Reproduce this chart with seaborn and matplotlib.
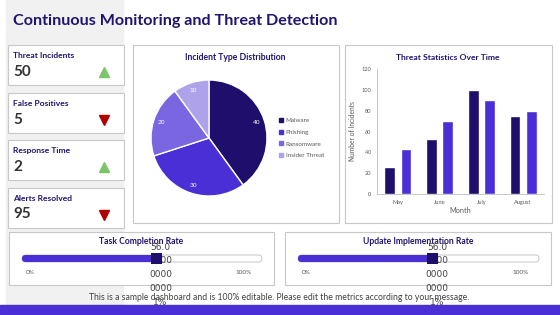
import numpy as np
import pandas as pd
import seaborn as sns
import matplotlib.pyplot as plt
from matplotlib.patches import Rectangle, FancyBboxPatch
from matplotlib.lines import Line2D

# KPI cards
kpi_labels = ['Threat Incidents', 'False Positives', 'Response Time', 'Alerts Resolved']
kpi_values = [50, 5, 2, 95]
kpi_trend = ['up', 'down', 'up', 'down']

# pie data
incident_types = ['Malware', 'Phishing', 'Ransomware', 'Insider Threat']
incident_counts = [40, 30, 20, 10]

# bar data
months = ['May', 'June', 'July', 'August']
series_a = [26, 53, 100, 75]
series_b = [43, 70, 90, 80]

# progress sliders
rate_titles = ['Task Completion Rate', 'Update Implementation Rate']
rate_values = [0.56, 0.56]

navy = '#20156e'
dark = '#1f0e6b'
bright = '#4b2fd6'
pie_colors = ['#1f0e6b', '#4b2fd6', '#7a66e0', '#aea3eb']
border = '#c8c8c8'
W, H = 560, 315

sns.set_style('white')
plt.rcParams['font.family'] = ['Lato', 'DejaVu Sans']

fig = plt.figure(figsize=(5.6, 3.15), dpi=100)
fig.patch.set_facecolor('white')


def frac(x0, y0, x1, y1):
    # pixel box (top-left origin) -> figure fraction rect
    return [x0 / W, 1 - y1 / H, (x1 - x0) / W, (y1 - y0) / H]


bg = fig.add_axes([0, 0, 1, 1])
bg.set_xlim(0, W)
bg.set_ylim(H, 0)
bg.axis('off')

# left grey band and bottom stripe
bg.add_patch(Rectangle((6, 0), 117, 305, color='#f1f1f1', zorder=0))
bg.add_patch(Rectangle((0, 305), W, 10, color=bright, zorder=0))

bg.text(13, 21, 'Continuous Monitoring and Threat Detection', fontsize=11.6,
        fontweight='bold', color=navy, va='center', ha='left')

# KPI cards
for i, (lab, val, tr) in enumerate(zip(kpi_labels, kpi_values, kpi_trend)):
    top = 45 + i * 47.5
    bg.add_patch(Rectangle((8, top), 116, 40, facecolor='white', edgecolor=border, lw=0.8, zorder=1))
    bg.text(13, top + 11, lab, fontsize=6.1, fontweight='bold', color=navy, va='center', zorder=2)
    bg.text(13, top + 27, str(val), fontsize=11, fontweight='bold', color='#333333', va='center', zorder=2)
    if tr == 'up':
        bg.plot(104, top + 27, marker='^', ms=7.5, color='#7cc46a', zorder=2)
    else:
        bg.plot(104, top + 27, marker='v', ms=7.5, color='#b00000', zorder=2)

# chart panels
bg.add_patch(Rectangle((133, 45), 206, 178, facecolor='white', edgecolor=border, lw=0.8, zorder=1))
bg.add_patch(Rectangle((345, 45), 207, 178, facecolor='white', edgecolor=border, lw=0.8, zorder=1))
bg.text(235, 57, 'Incident Type Distribution', fontsize=6.2, fontweight='bold', color=navy,
        ha='center', va='center', zorder=2)
bg.text(448, 57, 'Threat Statistics Over Time', fontsize=6.1, fontweight='bold', color=navy,
        ha='center', va='center', zorder=2)

# pie
pax = fig.add_axes(frac(151, 80, 267, 196))
total = sum(incident_counts)
wedges, _, autotexts = pax.pie(incident_counts, colors=pie_colors, startangle=90, counterclock=False,
                               autopct=lambda p: f'{p * total / 100:.0f}', pctdistance=0.86,
                               textprops=dict(color='white', fontsize=4.6))
pax.set_xlim(-1, 1)
pax.set_ylim(-1, 1)
pax.set_aspect('equal')
handles = [Line2D([], [], ls='none', marker='s', ms=2.6, color=c) for c in pie_colors]
pax.legend(handles, incident_types, loc='center left', bbox_to_anchor=(273 / W, 1 - 138 / H),
           bbox_transform=fig.transFigure, frameon=False, fontsize=4.5, handlelength=0.6,
           handletextpad=0.5, labelspacing=1.0, labelcolor='#595959')

# bars
df = pd.DataFrame({'month': months * 2,
                   'series': ['A'] * len(months) + ['B'] * len(months),
                   'value': series_a + series_b})
bax = fig.add_axes(frac(377, 69, 544, 194))
sns.barplot(data=df, x='month', y='value', hue='series', palette=[dark, bright],
            width=0.78, gap=0.35, legend=False, ax=bax, saturation=1)
bax.set_ylim(0, 120)
bax.set_xlim(-0.5, 3.5)
bax.set_yticks(np.arange(0, 121, 20))
sns.despine(ax=bax)
for s in ['left', 'bottom']:
    bax.spines[s].set_color('#bfbfbf')
    bax.spines[s].set_linewidth(0.6)
bax.tick_params(axis='both', labelsize=4.1, labelcolor='#595959', length=2, width=0.5,
                color='#bfbfbf', pad=2)
bax.tick_params(axis='x', length=0, pad=4)
bax.set_xlabel('Month', fontsize=5.3, color='#595959', labelpad=2)
bax.set_ylabel('Number of Incidents', fontsize=4.8, color='#595959', labelpad=4)
bax.set_facecolor('none')

# progress sliders
panels = [(9, 274), (285, 551)]
for (x0, x1), title, v in zip(panels, rate_titles, rate_values):
    bg.add_patch(Rectangle((x0, 232), x1 - x0, 53, facecolor='white', edgecolor=border, lw=0.8, zorder=1))
    cx = (x0 + x1) / 2
    bg.text(cx, 241, title, fontsize=6.2, fontweight='bold', color=navy, ha='center', va='center', zorder=2)
    t0, t1 = x0 + 13, x1 - 12
    bg.add_patch(FancyBboxPatch((t0, 255), t1 - t0, 7, boxstyle='round,pad=0,rounding_size=3.5',
                                facecolor='white', edgecolor='#bdbdbd', lw=0.6, zorder=2))
    fx = t0 + v * (t1 - t0)
    bg.add_patch(FancyBboxPatch((t0, 255), fx - t0, 7, boxstyle='round,pad=0,rounding_size=3.5',
                                facecolor=bright, edgecolor='none', zorder=3))
    bg.text(t0 + 8, 272, '0%', fontsize=4.6, color='#595959', ha='center', va='center', zorder=2)
    bg.text(t1 - 18, 272, '100%', fontsize=4.6, color='#595959', ha='center', va='center', zorder=2)
    label = f'{v * 100}%'
    chunks = [label[k:k + 4] for k in range(0, len(label), 4)]
    for j, ch in enumerate(chunks):
        bg.text(fx + 4, 247 + j * 13.8, ch, fontsize=6.5, color='#444444', ha='center', va='center',
                family='DejaVu Sans', zorder=4)
    bg.add_patch(Rectangle((fx - 5.5, 253), 11, 11, facecolor=dark, edgecolor='none', zorder=5))

bg.text(279, 298, 'This is a sample dashboard and is 100% editable. Please edit the metrics according to your message.',
        fontsize=6.2, color='#404040', ha='center', va='center', zorder=3)

fig.savefig('out.png', dpi=100)
